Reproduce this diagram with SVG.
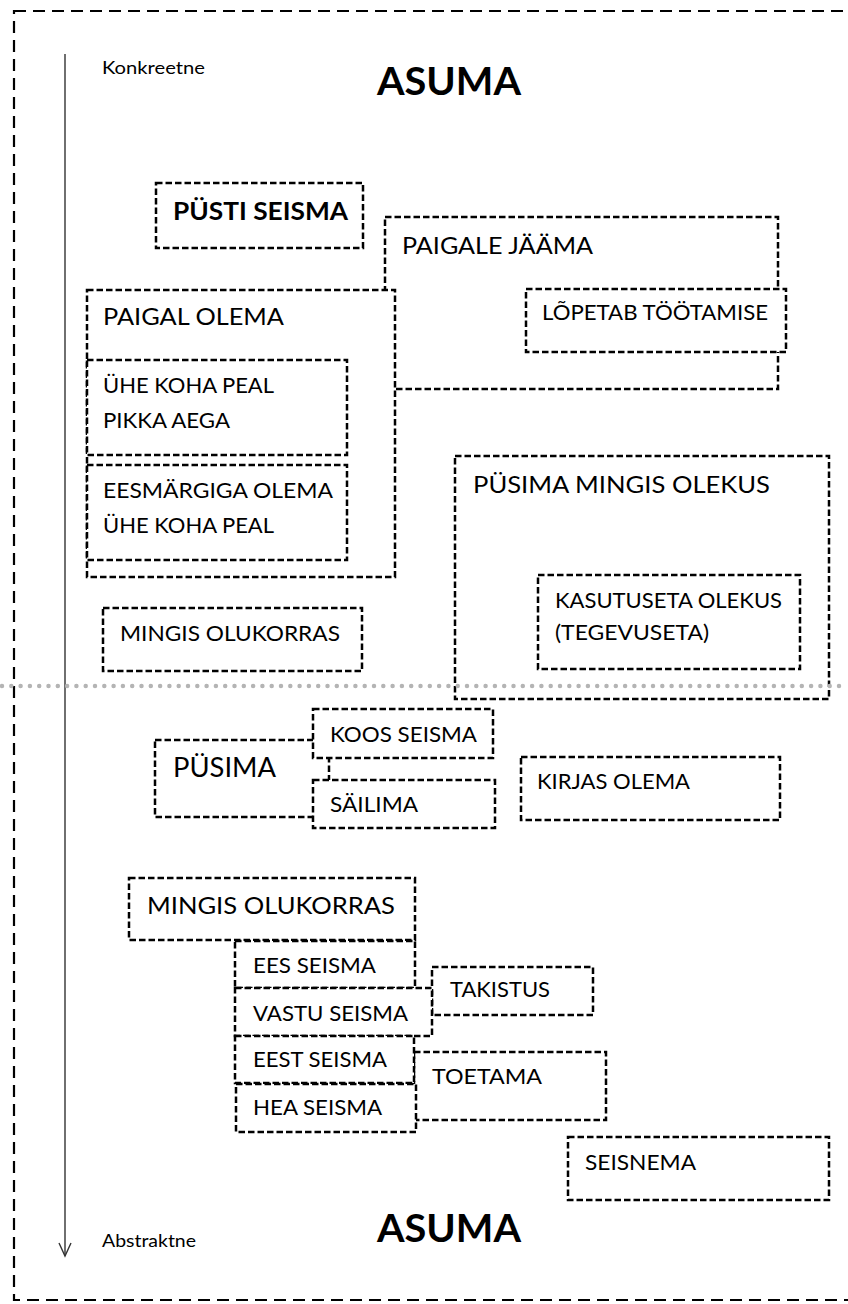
<svg xmlns="http://www.w3.org/2000/svg" width="848" height="1304" viewBox="0 0 848 1304">
<style>
.b{fill:#fff;stroke:#000;stroke-width:2.5;stroke-dasharray:6.5 3}
.t{font-family:Lato,"Open Sans","Liberation Sans",sans-serif;fill:#000}
.m{font-size:21px}
.l{font-size:24px}
.s{font-size:18px}
.h{font-weight:bold}
</style>
<rect width="848" height="1304" fill="#fff"/>
<g id="frame">
<rect x="14" y="11" width="850" height="1289" fill="none" stroke="#000" stroke-width="2.2" stroke-dasharray="12 7"/>
</g>
<g id="connectors">
<line x1="65" y1="54" x2="65" y2="1256" stroke="#333" stroke-width="1.4"/>
<polyline points="59,1243 65,1256 71,1243" fill="none" stroke="#333" stroke-width="1.4"/>
</g>
<g id="labels">
<text class="t s" x="102" y="74" textLength="103" lengthAdjust="spacingAndGlyphs">Konkreetne</text>
<text class="t h" x="377" y="95" font-size="39" textLength="144" lengthAdjust="spacingAndGlyphs">ASUMA</text>
<text class="t s" x="102" y="1247" textLength="94" lengthAdjust="spacingAndGlyphs">Abstraktne</text>
<text class="t h" x="377" y="1242" font-size="39" textLength="144" lengthAdjust="spacingAndGlyphs">ASUMA</text>
</g>
<g id="pusti-seisma">
<rect class="b" x="156" y="183" width="207" height="65"/>
<text class="t l h" x="173" y="220" textLength="175" lengthAdjust="spacingAndGlyphs">PÜSTI SEISMA</text>
</g>
<g id="paigale-jaama">
<rect class="b" x="385" y="217" width="393" height="172"/>
<text class="t l" x="402" y="254" textLength="191" lengthAdjust="spacingAndGlyphs">PAIGALE JÄÄMA</text>
</g>
<g id="lopetab-tootamise">
<rect class="b" x="526" y="289" width="260" height="63"/>
<text class="t m" x="542" y="320" textLength="226" lengthAdjust="spacingAndGlyphs">LÕPETAB TÖÖTAMISE</text>
</g>
<g id="paigal-olema">
<rect class="b" x="87" y="290" width="308" height="287"/>
<text class="t l" x="103" y="325" textLength="181" lengthAdjust="spacingAndGlyphs">PAIGAL OLEMA</text>
</g>
<g id="uhe-koha-peal">
<rect class="b" x="87" y="360" width="260" height="95"/>
<text class="t m" x="103" y="393" textLength="171" lengthAdjust="spacingAndGlyphs">ÜHE KOHA PEAL</text>
<text class="t m" x="103" y="428" textLength="127" lengthAdjust="spacingAndGlyphs">PIKKA AEGA</text>
</g>
<g id="eesmargiga-olema">
<rect class="b" x="87" y="465" width="260" height="95"/>
<text class="t m" x="103" y="498" textLength="230" lengthAdjust="spacingAndGlyphs">EESMÄRGIGA OLEMA</text>
<text class="t m" x="103" y="533" textLength="171" lengthAdjust="spacingAndGlyphs">ÜHE KOHA PEAL</text>
</g>
<g id="pusima-mingis-olekus">
<rect class="b" x="455" y="456" width="374" height="243"/>
<text class="t l" x="473" y="493" textLength="297" lengthAdjust="spacingAndGlyphs">PÜSIMA MINGIS OLEKUS</text>
</g>
<g id="kasutuseta-olekus">
<rect class="b" x="538" y="575" width="262" height="94"/>
<text class="t m" x="555" y="608" textLength="227" lengthAdjust="spacingAndGlyphs">KASUTUSETA OLEKUS</text>
<text class="t m" x="555" y="640" textLength="154" lengthAdjust="spacingAndGlyphs">(TEGEVUSETA)</text>
</g>
<g id="mingis-olukorras-1">
<rect class="b" x="103" y="608" width="259" height="63"/>
<text class="t m" x="120" y="641" textLength="220" lengthAdjust="spacingAndGlyphs">MINGIS OLUKORRAS</text>
</g>
<g id="pusima">
<rect class="b" x="155" y="740" width="174" height="77"/>
<text class="t" x="173" y="777" font-size="26" textLength="103" lengthAdjust="spacingAndGlyphs">PÜSIMA</text>
</g>
<g id="koos-seisma">
<rect class="b" x="313" y="709" width="180" height="49"/>
<text class="t m" x="330" y="742" textLength="147" lengthAdjust="spacingAndGlyphs">KOOS SEISMA</text>
</g>
<g id="sailima">
<rect class="b" x="313" y="780" width="182" height="48"/>
<text class="t m" x="330" y="812" textLength="88" lengthAdjust="spacingAndGlyphs">SÄILIMA</text>
</g>
<g id="kirjas-olema">
<rect class="b" x="521" y="757" width="259" height="63"/>
<text class="t m" x="537" y="789" textLength="153" lengthAdjust="spacingAndGlyphs">KIRJAS OLEMA</text>
</g>
<g id="mingis-olukorras-2">
<rect class="b" x="129" y="878" width="286" height="62"/>
<text class="t l" x="147" y="914" textLength="248" lengthAdjust="spacingAndGlyphs">MINGIS OLUKORRAS</text>
</g>
<g id="takistus">
<rect class="b" x="432" y="967" width="161" height="48"/>
<text class="t m" x="450" y="997" textLength="100" lengthAdjust="spacingAndGlyphs">TAKISTUS</text>
</g>
<g id="toetama">
<rect class="b" x="414" y="1052" width="192" height="68"/>
<text class="t m" x="432" y="1084" textLength="110" lengthAdjust="spacingAndGlyphs">TOETAMA</text>
</g>
<g id="ees-seisma">
<rect class="b" x="235" y="941" width="180" height="47"/>
<text class="t m" x="253" y="973" textLength="123" lengthAdjust="spacingAndGlyphs">EES SEISMA</text>
</g>
<g id="vastu-seisma">
<rect class="b" x="235" y="988" width="197" height="48"/>
<text class="t m" x="253" y="1021" textLength="155" lengthAdjust="spacingAndGlyphs">VASTU SEISMA</text>
</g>
<g id="eest-seisma">
<rect class="b" x="235" y="1036" width="179" height="47"/>
<text class="t m" x="253" y="1067" textLength="134" lengthAdjust="spacingAndGlyphs">EEST SEISMA</text>
</g>
<g id="hea-seisma">
<rect class="b" x="236" y="1084" width="180" height="48"/>
<text class="t m" x="253" y="1115" textLength="129" lengthAdjust="spacingAndGlyphs">HEA SEISMA</text>
</g>
<g id="seisnema">
<rect class="b" x="568" y="1137" width="261" height="63"/>
<text class="t m" x="585" y="1170" textLength="111" lengthAdjust="spacingAndGlyphs">SEISNEMA</text>
</g>
<g id="divider">
<line x1="2" y1="686" x2="848" y2="686" stroke="#b4b4b4" stroke-width="4.5" stroke-linecap="round" stroke-dasharray="0 9.3"/>
</g>
</svg>
